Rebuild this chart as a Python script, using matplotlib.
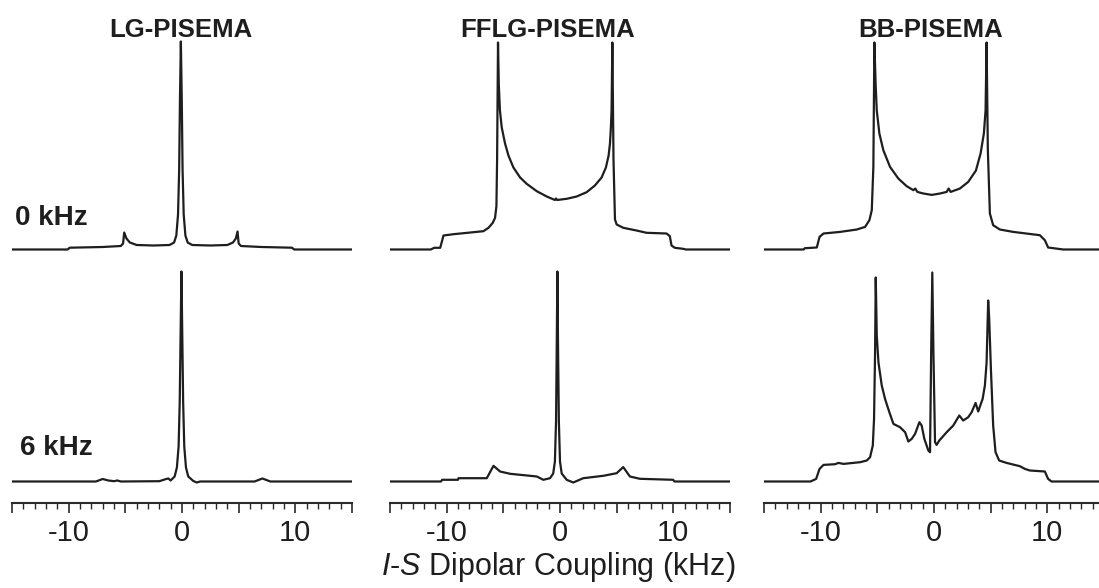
import numpy as np
import matplotlib
matplotlib.use("Agg")
import matplotlib.pyplot as plt
from matplotlib.ticker import MultipleLocator

plt.rcParams['font.family'] = ['Liberation Sans', 'DejaVu Sans']
plt.rcParams['mathtext.fontset'] = 'custom'
plt.rcParams['mathtext.rm'] = 'Liberation Sans'
plt.rcParams['mathtext.it'] = 'Liberation Sans:italic'

## Column titles / row labels
methods = ["LG-PISEMA", "FFLG-PISEMA", "BB-PISEMA"]
rows = ["0 kHz", "6 kHz"]

## Spectra (kHz, arbitrary intensity)
lg0_x = [-15, -10.1, -9.9, -7.0, -5.4, -5.2, -5.1, -4.9, -4.6, -4.0, -2.5, -1.1, -0.7, -0.5,
         -0.35, -0.25, -0.18, -0.1, -0.02, 0.05, 0.15, 0.3, 0.5, 0.9, 2.5, 4.0, 4.5, 4.75,
         4.9, 5.0, 5.2, 7.0, 9.7, 9.9, 15]
lg0_y = [0, 0, 1.8, 2.5, 3.5, 6, 17, 11, 7, 4.5, 4, 4.5, 7, 14,
         35, 80, 150, 208, 150, 80, 35, 14, 7, 4.5, 4, 4.5, 7, 11,
         18, 6, 3.5, 2.5, 1.8, 0, 0]

lg6_x = [-15, -7.6, -7.0, -6.5, -6.0, -5.7, -5.4, -2.0, -1.4, -1.2, -1.0, -0.65, -0.45, -0.3,
         -0.2, -0.12, -0.05, 0.02, 0.1, 0.2, 0.35, 0.55, 1.0, 1.3, 1.6, 6.4, 7.1, 7.8, 15]
lg6_y = [0, 0, 2.5, 1, 0.3, 1, 0, 0.3, 2.5, 3, 1, 5, 14, 35,
         80, 150, 210, 150, 80, 35, 14, 5, 0.5, -1, 0, 0, 3, 0, 0]

fflg0_x = [-15, -11.4, -11.1, -10.57, -10.28, -9.4, -6.76, -6.31, -5.93, -5.73, -5.61, -5.55,
           -5.47, -5.4, -5.3, -5.14, -4.85, -4.55, -4.11, -3.52, -2.94, -2.05, -1.17, -0.45,
           -0.35, -0.25, 0.59, 1.47, 2.35, 3.08, 3.67, 4.05, 4.29, 4.41, 4.49, 4.55, 4.62,
           4.72, 4.85, 5.0, 5.58, 6.75, 7.64, 9.4, 9.69, 9.84, 10.13, 10.86, 11.1, 15]
fflg0_y = [0, 0, 1.7, 1.7, 14, 15.3, 18.3, 21.7, 26.7, 31.7, 43.3, 90,
           207, 165, 139, 122, 106, 94, 82, 72, 65.7, 58.3, 53, 49.5,
           51, 49.5, 50.7, 53, 57.3, 64, 72, 82, 94, 106, 122, 139, 207,
           90, 30, 25, 21.7, 19, 16.7, 16, 13.3, 4, 1.7, 0.7, 0, 0]

fflg6_x = [-15, -10.5, -10.4, -9.0, -8.96, -6.46, -5.87, -5.29, -4.4, -2.64, -2.05, -1.47, -0.88,
           -0.6, -0.45, -0.35, -0.3, -0.23, -0.16, -0.1, 0.0, 0.15, 0.59, 1.17, 2.05, 3.82,
           5.0, 5.58, 6.17, 7.05, 9.98, 10.1, 15]
fflg6_y = [0, 0, 1.7, 1.7, 3.3, 3.3, 15.7, 10, 7.7, 5.7, 5, 1.7, 3.3,
           8, 20, 60, 120, 210, 120, 60, 20, 8, 1.7, -1, 3.3, 5.7,
           8.3, 14.4, 5, 2.7, 1.7, 0, 0]

bb0_x = [-15.2, -11.5, -11.4, -10.34, -10.1, -9.75, -8.28, -6.81, -6.08, -5.7, -5.49, -5.35,
         -5.26, -5.15, -5.05, -4.82, -4.47, -3.88, -3.15, -2.41, -1.82, -1.65, -1.47, -0.94,
         -0.2, 0.53, 1.12, 1.29, 1.47, 2.29, 3.02, 3.7, 4.11, 4.4, 4.55, 4.64, 4.75, 4.93,
         5.22, 5.81, 6.99, 9.34, 9.78, 10.07, 11.4, 15.2]
bb0_y = [0, 0, 1.3, 2, 12.6, 16, 17.6, 20, 22.6, 29.3, 39.3, 82.6,
         207, 165, 139, 116, 99.3, 82.6, 71, 63.3, 59.3, 61, 57.6, 56,
         54.6, 56, 57.6, 61, 57.6, 61, 67.6, 79, 96, 116, 139, 207, 100, 36,
         24.3, 20, 17.6, 14.3, 9.3, 2, 0, 0]

bb6_x = [-15, -10.9, -10.4, -10.1, -9.75, -8.72, -8.43, -7.99, -6.52, -5.93, -5.64, -5.4, -5.29,
         -5.2, -5.14, -5.05, -4.9, -4.61, -4.32, -3.94, -3.58, -3.0, -2.55, -2.26, -1.97, -1.67,
         -1.29, -1.09, -0.85, -0.5, -0.35, -0.25, -0.15, -0.05, 0.09, 0.23, 0.47, 1.12, 1.7,
         2.23, 2.58, 3.02, 3.32, 3.67, 3.9, 4.29, 4.49, 4.64, 4.78, 4.87, 5.02, 5.22, 5.43,
         5.75, 6.4, 7.58, 8.02, 8.46, 9.78, 10.07, 10.37, 15]
bb6_y = [0, 0, 2.6, 12.6, 16.6, 17.3, 18.6, 17.6, 19.3, 21, 24.3, 36, 62.7,
         129, 204, 146, 119, 96, 82.6, 69.3, 57.6, 54.3, 49.3, 40, 42.6, 47.6,
         59.3, 56, 42.6, 31, 29.3, 129, 209, 129, 39.3, 36.6, 41, 49.3, 56,
         66, 61, 64.3, 69.3, 78.6, 70, 82.6, 96, 119, 181, 163, 113, 56, 29.3,
         21, 18.6, 15.3, 12.6, 11, 10, 2.6, 0, 0]

spectra = [[(lg0_x, lg0_y), (lg6_x, lg6_y)],
           [(fflg0_x, fflg0_y), (fflg6_x, fflg6_y)],
           [(bb0_x, bb0_y), (bb6_x, bb6_y)]]

xticks = [-15, -10, -5, 0, 5, 10, 15]
xticklabels = ["", "-10", "", "0", "", "10", ""]

W, H = 1099, 588
fig = plt.figure(figsize=(W / 100, H / 100), dpi=100)

col_left = [12, 390, 764]      # px, left edge of each panel
col_title = [181, 548, 931]    # px, title centres
panel_w = 340
axis_y = 503                   # px, the scale bar
offsets = [253.5, 21.5]        # vertical offset of the two rows
line_col = "#1e1e1e"

for i in range(3):
    ax = fig.add_axes([col_left[i] / W, (H - axis_y) / H, panel_w / W, axis_y / H])
    for r in range(2):
        x, y = spectra[i][r]
        ax.plot(x, np.array(y) + offsets[r], color=line_col, lw=1.6, solid_joinstyle="round")
    ax.set_xlim(-15, 15)
    ax.set_ylim(0, axis_y)
    for s in ["top", "left", "right"]:
        ax.spines[s].set_visible(False)
    ax.spines["bottom"].set_linewidth(1.5)
    ax.spines["bottom"].set_color("#2a2a2a")
    ax.set_yticks([])
    ax.set_xticks(xticks)
    ax.set_xticklabels(xticklabels)
    ax.xaxis.set_minor_locator(MultipleLocator(1))
    ax.tick_params(axis="x", which="major", length=7.5, width=1.2, direction="out",
                   labelsize=21, pad=4, color="#2a2a2a", labelcolor="#1e1e1e")
    ax.tick_params(axis="x", which="minor", length=4, width=1.0, direction="out", color="#2a2a2a")
    ax.patch.set_visible(False)
    fig.text(col_title[i] / W, 1 - 37 / H, methods[i], ha="center", va="baseline",
             fontsize=18.5, fontweight="bold", color="#1e1e1e")

fig.text(15 / W, 1 - 225 / H, rows[0], ha="left", va="baseline", fontsize=20,
         fontweight="bold", color="#1e1e1e")
fig.text(20 / W, 1 - 455 / H, rows[1], ha="left", va="baseline", fontsize=20,
         fontweight="bold", color="#1e1e1e")

fig.text(558 / W, 1 - 575 / H, r"$\mathit{I}$-$\mathit{S}$ Dipolar Coupling (kHz)",
         ha="center", va="baseline", fontsize=22, color="#1e1e1e")

fig.savefig("out.png", dpi=100)
